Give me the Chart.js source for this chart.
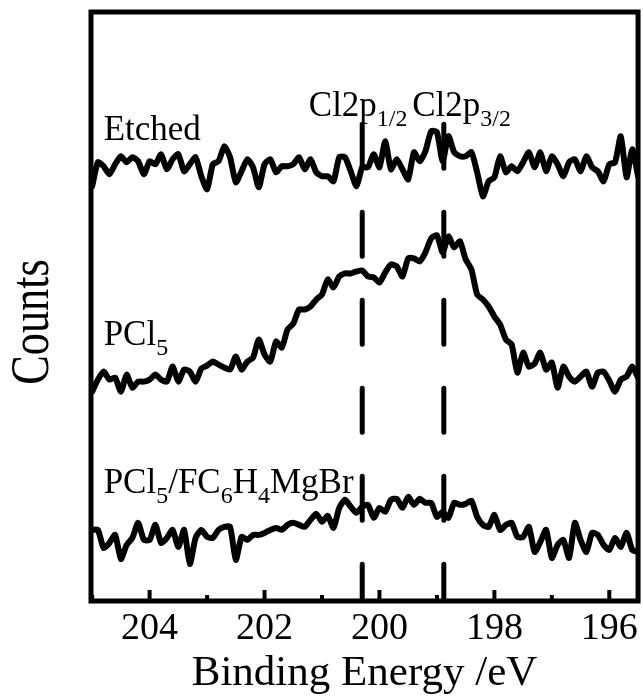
<!DOCTYPE html>
<html>
<head>
<meta charset="utf-8">
<script src="https://cdn.jsdelivr.net/npm/chart.js@4.4.1/dist/chart.umd.min.js"></script>
<style>
  html, body { margin: 0; padding: 0; background: #fff; }
  #chart { display: block; }
</style>
</head>
<body>
<canvas id="chart" width="643" height="700"></canvas>
<script>
"use strict";

// binding energy grid (eV)
const energy = [
  205.0, 204.9, 204.8, 204.7, 204.6, 204.5, 204.4, 204.3, 204.2, 204.1,
  204.0, 203.9, 203.8, 203.7, 203.6, 203.5, 203.4, 203.3, 203.2, 203.1,
  203.0, 202.9, 202.8, 202.7, 202.6, 202.5, 202.4, 202.3, 202.2, 202.1,
  202.0, 201.9, 201.8, 201.7, 201.6, 201.5, 201.4, 201.3, 201.2, 201.1,
  201.0, 200.9, 200.8, 200.7, 200.6, 200.5, 200.4, 200.3, 200.2, 200.1,
  200.0, 199.9, 199.8, 199.7, 199.6, 199.5, 199.4, 199.3, 199.2, 199.1,
  199.0, 198.9, 198.8, 198.7, 198.6, 198.5, 198.4, 198.3, 198.2, 198.1,
  198.0, 197.9, 197.8, 197.7, 197.6, 197.5, 197.4, 197.3, 197.2, 197.1,
  197.0, 196.9, 196.8, 196.7, 196.6, 196.5, 196.4, 196.3, 196.2, 196.1,
  196.0, 195.9, 195.8, 195.7, 195.6, 195.5
];

// counts (arbitrary units, traces offset for display)
const etched = [
  415, 439, 435, 427, 437, 445, 439, 444, 440, 427,
  440, 437, 447, 432, 442, 447, 430, 437, 444, 425,
  412, 437, 440, 455, 444, 419, 430, 442, 434, 414,
  437, 442, 429, 435, 435, 437, 444, 432, 442, 429,
  425, 425, 420, 444, 444, 430, 415, 434, 434, 447,
  434, 460, 432, 442, 432, 422, 449, 440, 450, 470,
  469, 440, 465, 449, 445, 445, 449, 429, 405, 420,
  424, 445, 429, 435, 430, 439, 449, 434, 449, 430,
  445, 437, 425, 439, 442, 430, 445, 434, 430, 420,
  437, 439, 465, 424, 452, 425
];

const pcl5 = [
  210, 222, 230, 222, 224, 210, 227, 214, 220, 220,
  222, 227, 222, 220, 235, 220, 232, 230, 220, 233,
  236, 240, 237, 234, 232, 245, 232, 240, 244, 262,
  247, 240, 260, 254, 272, 278, 292, 292, 295, 302,
  307, 322, 314, 325, 328, 328, 330, 331, 325, 324,
  319, 329, 337, 335, 325, 343, 343, 340, 349, 363,
  366, 349, 365, 354, 360, 342, 332, 307, 302, 295,
  285, 277, 262, 257, 229, 249, 235, 238, 249, 232,
  239, 214, 235, 225, 220, 225, 230, 215, 229, 230,
  221, 210, 222, 225, 235, 224
];

const pcl5Grignard = [
  72, 72, 54, 59, 67, 43, 57, 64, 79, 62,
  62, 77, 59, 64, 72, 55, 72, 38, 64, 72,
  65, 64, 72, 75, 75, 42, 65, 62, 67, 67,
  69, 72, 74, 72, 77, 79, 77, 75, 82, 88,
  80, 86, 74, 94, 102, 95, 89, 95, 97, 84,
  94, 90, 102, 103, 94, 105, 97, 103, 99, 99,
  85, 90, 84, 99, 97, 98, 101, 85, 77, 75,
  87, 72, 77, 79, 65, 65, 75, 50, 60, 72,
  44, 57, 62, 44, 79, 62, 50, 69, 67, 57,
  52, 64, 55, 69, 52, 50
];

// Cl 2p1/2 and Cl 2p3/2 guide lines
const peakEnergies = [200.3, 198.88];
const peakLineTop = 477;

const serif = '"Liberation Serif", "Times New Roman", serif';

function toPoints(values) {
  return values.map((v, i) => ({ x: energy[i], y: v }));
}

const traceStyle = {
  borderColor: "#000",
  borderWidth: 6,
  borderJoinStyle: "round",
  borderCapStyle: "round",
  pointRadius: 0,
  tension: 0.2,
  fill: false,
};

const datasets = [etched, pcl5, pcl5Grignard].map((vals) => ({
  ...traceStyle,
  data: toPoints(vals),
}));

peakEnergies.forEach((e) => {
  datasets.push({
    data: [{ x: e, y: peakLineTop }, { x: e, y: 1 }],
    borderColor: "#000",
    borderWidth: 5,
    borderDash: [44, 44],
    borderCapStyle: "round",
    pointRadius: 0,
    fill: false,
  });
});

function drawRich(ctx, parts, x, y) {
  let cx = x;
  parts.forEach(([text, sub]) => {
    ctx.font = (sub ? 24 : 35) + "px " + serif;
    ctx.fillText(text, cx, sub ? y + 10 : y);
    cx += ctx.measureText(text).width;
  });
}

const framePlugin = {
  id: "frame",
  afterDraw(chart) {
    const { ctx, chartArea: a, scales } = chart;
    const xs = scales.x, ys = scales.y;
    ctx.save();
    ctx.strokeStyle = "#000";
    ctx.fillStyle = "#000";

    // inward ticks on the bottom axis
    ctx.lineWidth = 4;
    for (let v = Math.ceil(xs.min); v <= Math.floor(xs.max); v++) {
      const px = xs.getPixelForValue(v);
      const len = v % 2 === 0 ? 11 : 6;
      ctx.beginPath();
      ctx.moveTo(px, a.bottom);
      ctx.lineTo(px, a.bottom - len);
      ctx.stroke();
    }

    // box
    ctx.lineWidth = 5;
    ctx.strokeRect(a.left, a.top, a.right - a.left, a.bottom - a.top);

    // y axis title, narrow like the original
    ctx.save();
    ctx.translate(34, 322);
    ctx.rotate(-Math.PI / 2);
    ctx.scale(0.82, 1);
    ctx.font = "54px " + serif;
    ctx.textAlign = "center";
    ctx.textBaseline = "middle";
    ctx.fillText("Counts", 0, 0);
    ctx.restore();

    // trace labels
    ctx.textBaseline = "alphabetic";
    ctx.textAlign = "left";
    const X = (e) => xs.getPixelForValue(e);
    const Y = (c) => ys.getPixelForValue(c);
    drawRich(ctx, [["Etched", 0]], X(204.8), Y(461));
    drawRich(ctx, [["PCl", 0], ["5", 1]], X(204.8), Y(257));
    drawRich(ctx, [["PCl", 0], ["5", 1], ["/FC", 0], ["6", 1], ["H", 0], ["4", 1], ["MgBr", 0]], X(204.8), Y(109));
    drawRich(ctx, [["Cl2p", 0], ["1/2", 1]], X(201.23), Y(485));
    drawRich(ctx, [["Cl2p", 0], ["3/2", 1]], X(199.43), Y(485));
    ctx.restore();
  },
};

new Chart(document.getElementById("chart"), {
  type: "line",
  data: { datasets },
  options: {
    responsive: false,
    animation: false,
    layout: { padding: { top: 12, right: 3.5, left: 0, bottom: 0 } },
    plugins: {
      legend: { display: false },
      tooltip: { enabled: false },
    },
    scales: {
      x: {
        type: "linear",
        reverse: true,
        min: 195.5,
        max: 205.02,
        border: { display: false },
        grid: { display: false, drawTicks: false },
        ticks: {
          stepSize: 1,
          includeBounds: false,
          autoSkip: false,
          maxRotation: 0,
          padding: 5,
          color: "#000",
          font: { family: serif, size: 38 },
          callback: (v) => (Number.isInteger(v) && v % 2 === 0 ? String(v) : ""),
        },
        title: {
          display: true,
          text: "Binding Energy /eV",
          color: "#000",
          font: { family: serif, size: 43 },
          padding: { top: 0, bottom: 0 },
        },
        afterFit: (s) => { s.height = 99; },
      },
      y: {
        min: 1,
        max: 589,
        border: { display: false },
        grid: { display: false },
        ticks: { display: false },
        title: { display: false },
        afterFit: (s) => { s.width = 91; },
      },
    },
  },
  plugins: [framePlugin],
});
</script>
</body>
</html>
